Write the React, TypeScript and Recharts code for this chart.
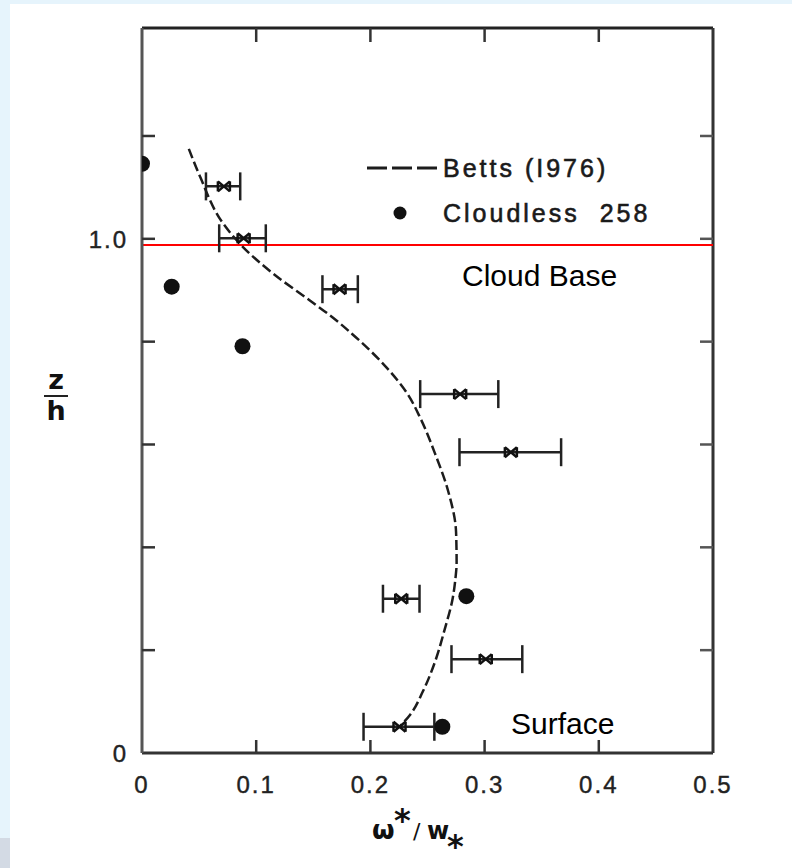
import { ScatterChart, Scatter, XAxis, YAxis, ErrorBar, ReferenceLine } from 'recharts';

const X_TICKS = [0, 0.1, 0.2, 0.3, 0.4, 0.5];
const Z_TICKS = [0, 0.2, 0.4, 0.6, 0.8, 1, 1.2];
const Z_TOP = 1.41;

// Betts (1976) profile (top to bottom)
const BETTS_W = [0.041, 0.051, 0.071, 0.088, 0.115, 0.147, 0.167, 0.184, 0.214, 0.232, 0.244, 0.257, 0.268, 0.275, 0.2755, 0.2745, 0.272, 0.265, 0.257, 0.246, 0.235, 0.2255];
const BETTS_Z = [1.175, 1.12, 1.03, 0.985, 0.932, 0.88, 0.847, 0.815, 0.75, 0.7, 0.65, 0.58, 0.51, 0.43, 0.37, 0.34, 0.3, 0.24, 0.18, 0.12, 0.075, 0.051];

// Cloudless 258
const CLOUDLESS_W = [0, 0.026, 0.088, 0.284, 0.263];
const CLOUDLESS_Z = [1.146, 0.907, 0.791, 0.305, 0.051];

// observations with horizontal error bars
const OBS_W = [0.0717, 0.089, 0.173, 0.2786, 0.323, 0.227, 0.301, 0.2255];
const OBS_LO = [0.056, 0.0676, 0.158, 0.2436, 0.278, 0.211, 0.271, 0.194];
const OBS_HI = [0.086, 0.1084, 0.189, 0.312, 0.367, 0.243, 0.333, 0.256];
const OBS_Z = [1.102, 1.001, 0.902, 0.698, 0.585, 0.3, 0.1825, 0.051];

const CLOUD_BASE = 0.988;

const W = 792;
const H = 868;
const PLOT_W = 571;
const PLOT_H = 725;
const INK = '#1c1c1c';
const FONT = '"Liberation Sans", Arial, sans-serif';

const bettsData = BETTS_W.map((w, i) => ({ w, z: BETTS_Z[i] }));
const cloudlessData = CLOUDLESS_W.map((w, i) => ({ w, z: CLOUDLESS_Z[i] }));
const obsData = OBS_W.map((w, i) => ({
  w,
  z: OBS_Z[i],
  err: [w - OBS_LO[i], OBS_HI[i] - w],
}));

const XTick = ({ x, y, payload }: any) => {
  const v = payload.value as number;
  const inner = v > 0.001 && v < 0.499;
  return (
    <g>
      {inner && <line x1={x} x2={x} y1={y} y2={y - 13} stroke="#333" strokeWidth={2.5} />}
      {inner && <line x1={x} x2={x} y1={y - PLOT_H} y2={y - PLOT_H + 14} stroke="#333" strokeWidth={2.5} />}
      <text x={x} y={y + 40} textAnchor="middle" fontSize={24} letterSpacing={2}
        fontFamily={FONT} fill="#222" stroke="#222" strokeWidth={0.4}>
        {v === 0 ? '0' : v.toFixed(1)}
      </text>
    </g>
  );
};

const YTick = ({ x, y, payload }: any) => {
  const v = payload.value as number;
  const label = v === 0 ? '0' : v === 1 ? '1.0' : '';
  return (
    <g>
      {v > 0 && <line x1={x} x2={x + 13} y1={y} y2={y} stroke="#333" strokeWidth={2.5} />}
      {v > 0 && <line x1={x + PLOT_W} x2={x + PLOT_W - 13} y1={y} y2={y} stroke="#555" strokeWidth={2.5} />}
      {label && (
        <text x={x - 14} y={y + 9} textAnchor="end" fontSize={24} letterSpacing={2}
          fontFamily={FONT} fill="#222" stroke="#222" strokeWidth={0.4}>
          {label}
        </text>
      )}
    </g>
  );
};

const Dot = (p: any) => <circle cx={p.cx} cy={p.cy} r={8} fill="#111" />;

// the little bow-tie marker sitting at each observation
const Bowtie = (p: any) => {
  const { cx, cy } = p;
  return (
    <g stroke="#111" strokeWidth={2.5}>
      <line x1={cx - 6} y1={cy - 5} x2={cx + 6} y2={cy + 5} />
      <line x1={cx - 6} y1={cy + 5} x2={cx + 6} y2={cy - 5} />
      <line x1={cx - 6} y1={cy - 5} x2={cx - 6} y2={cy + 5} />
      <line x1={cx + 6} y1={cy - 5} x2={cx + 6} y2={cy + 5} />
    </g>
  );
};

const NoShape = () => <g />;

export default function App() {
  return (
    <div style={{ position: 'absolute', left: 0, top: 0, width: W, height: H, background: '#e6f4fc', overflow: 'hidden' }}>
      <div style={{ position: 'absolute', left: 10, top: 4, width: W - 10, height: H - 4, background: '#fff' }} />
      <div style={{ position: 'absolute', left: 0, top: 838, width: 10, height: 30, background: '#d3dae4' }} />
      <div style={{ position: 'absolute', left: 0, top: 0 }}>
        <ScatterChart width={W} height={H} margin={{ top: 28, right: 79, bottom: 75, left: 82 }}>
          <XAxis
            type="number"
            dataKey="w"
            domain={[0, 0.5]}
            ticks={X_TICKS}
            height={40}
            tickSize={0}
            tickMargin={0}
            tickLine={false}
            axisLine={{ stroke: '#333', strokeWidth: 3 }}
            tick={<XTick />}
            allowDataOverflow
          />
          <YAxis
            type="number"
            dataKey="z"
            domain={[0, Z_TOP]}
            ticks={Z_TICKS}
            width={60}
            tickSize={0}
            tickMargin={0}
            tickLine={false}
            axisLine={{ stroke: '#555', strokeWidth: 3 }}
            tick={<YTick />}
            allowDataOverflow
          />
          <ReferenceLine y={Z_TOP} stroke="#222" strokeWidth={3} />
          <ReferenceLine x={0.5} stroke="#333" strokeWidth={3} />
          <ReferenceLine y={CLOUD_BASE} stroke="#ff0000" strokeWidth={2} />
          <Scatter
            data={bettsData}
            shape={NoShape}
            line={{ stroke: INK, strokeWidth: 2.5, strokeDasharray: '10 4' }}
            lineType="joint"
            lineJointType="monotoneY"
            isAnimationActive={false}
          />
          <Scatter data={obsData} shape={Bowtie} isAnimationActive={false}>
            <ErrorBar dataKey="err" direction="x" width={14} stroke="#222" strokeWidth={2.5} />
          </Scatter>
          <Scatter data={cloudlessData} shape={Dot} isAnimationActive={false} />
        </ScatterChart>
      </div>
      <svg width={W} height={H} style={{ position: 'absolute', left: 0, top: 0, pointerEvents: 'none' }}>
        {/* legend */}
        <line x1={367} x2={437} y1={168} y2={168} stroke={INK} strokeWidth={3} strokeDasharray="20 5" />
        <text x={443} y={177} fontSize={25} letterSpacing={3} fontFamily={FONT} fill="#1a1a1a" stroke="#1a1a1a" strokeWidth={0.6}>Betts (I976)</text>
        <circle cx={400} cy={213} r={6.5} fill="#111" />
        <text x={443} y={222} fontSize={25} letterSpacing={3} fontFamily={FONT} fill="#1a1a1a" stroke="#1a1a1a" strokeWidth={0.6} xmlSpace="preserve">Cloudless  258</text>
        {/* annotations */}
        <text x={462} y={286} fontSize={30} fontFamily={FONT} fill="#000">Cloud Base</text>
        <text x={511} y={734} fontSize={30} fontFamily={FONT} fill="#000">Surface</text>
        {/* y title: z over h */}
        <text x={56} y={389} textAnchor="middle" fontSize={27} fontWeight="bold" fontFamily="DejaVu Sans" fill="#111">z</text>
        <line x1={44} x2={68} y1={396} y2={396} stroke="#222" strokeWidth={2} />
        <text x={56} y={420} textAnchor="middle" fontSize={27} fontWeight="bold" fontFamily="DejaVu Sans" fill="#111">h</text>
        {/* x title: omega star over w star */}
        <text x={372} y={839} fontSize={26} fontWeight="bold" fontFamily="DejaVu Sans" fill="#111">ω</text>
        <text x={394} y={831} fontSize={32} fontWeight="bold" fontFamily="DejaVu Sans" fill="#111">*</text>
        <text x={413} y={839} fontSize={22} fontFamily="DejaVu Sans" fill="#111">/</text>
        <text x={427} y={839} fontSize={24} fontWeight="bold" fontFamily="DejaVu Sans" fill="#111">w</text>
        <text x={447} y={857} fontSize={32} fontWeight="bold" fontFamily="DejaVu Sans" fill="#111">*</text>
      </svg>
    </div>
  );
}
